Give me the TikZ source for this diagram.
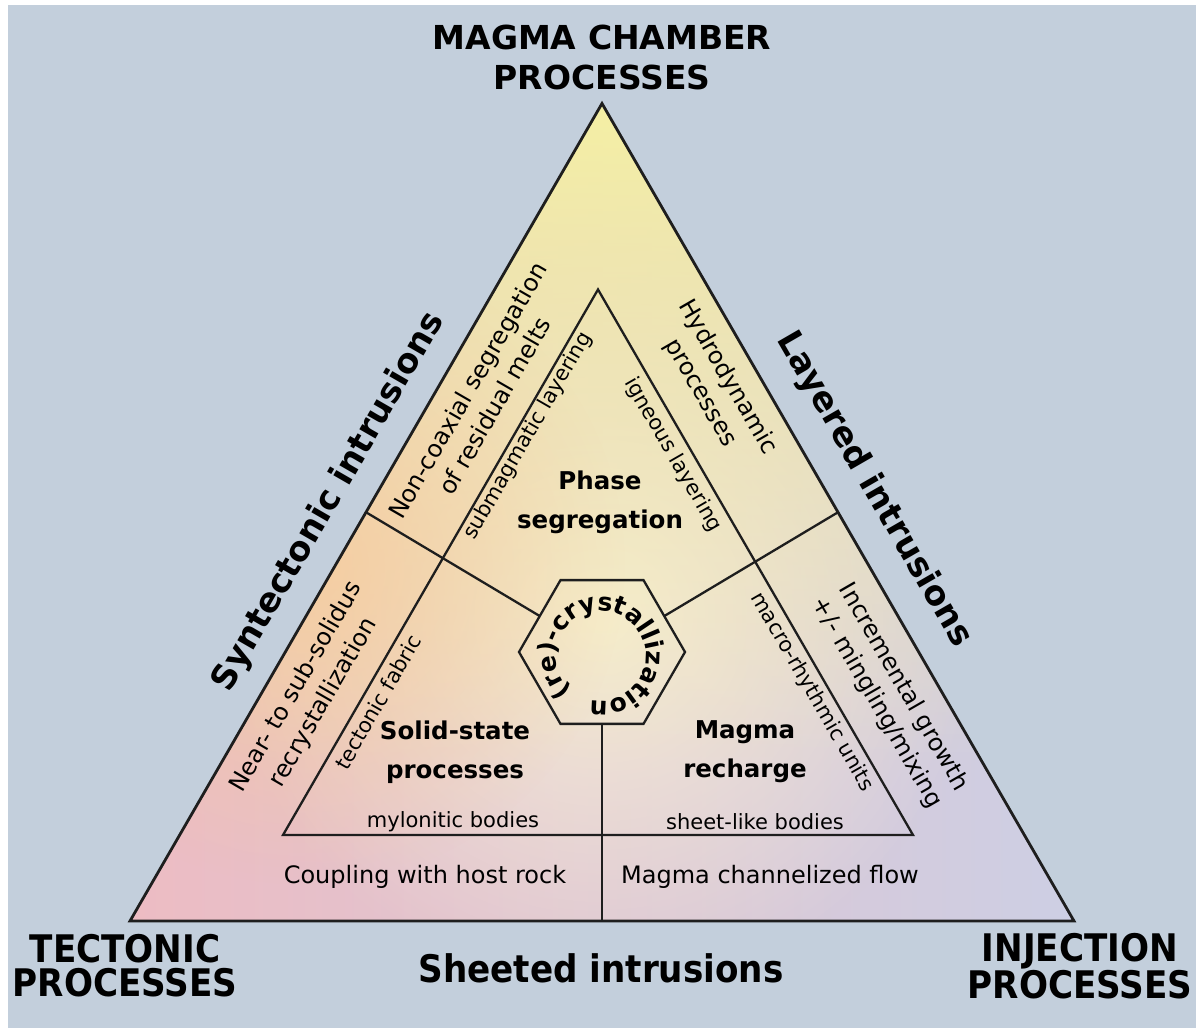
\documentclass[tikz,border=0pt]{standalone}
\usepackage{fontspec}
\setmainfont{DejaVu Sans}
\newfontfamily\condb{DejaVu Sans}[FakeStretch=0.9]
\usetikzlibrary{calc,fadings,decorations.text}
\definecolor{bgc}{HTML}{C3CFDC}
\definecolor{pinkc}{HTML}{EDBCC3}
\definecolor{midc}{HTML}{E4C8D5}
\definecolor{lavc}{HTML}{CDCFE4}
\definecolor{yelc}{HTML}{F5F0A4}
\definecolor{creamc}{HTML}{F6EDD6}
\definecolor{peachc}{HTML}{F7CC9A}
\definecolor{linec}{HTML}{1E1E1E}
\tikzfading[name=vfade, top color=transparent!0, middle color=transparent!20, bottom color=transparent!100]
\tikzfading[name=rfade, inner color=transparent!0, outer color=transparent!100]
\newcommand{\hexfont}{\bfseries\fontsize{25}{28}\selectfont}
\begin{document}
\begin{tikzpicture}[x=1pt,y=1pt,
  lab/.style={font=\fontsize{24}{31}\selectfont, align=center, inner sep=0pt, text=black},
  sml/.style={font=\fontsize{21}{25}\selectfont, align=center, inner sep=0pt, text=black},
  bld/.style={font=\bfseries\fontsize{24.5}{39}\selectfont, align=center, inner sep=0pt, text=black},
  big/.style={font=\bfseries\fontsize{34}{40}\selectfont, inner sep=0pt, text=black},
  corner/.style={font=\condb\bfseries\fontsize{38}{34}\selectfont, align=center, inner sep=0pt, text=black},
  top/.style={font=\bfseries\fontsize{33}{40}\selectfont, align=center, inner sep=0pt, text=black},
  edge/.style={draw=linec, line width=2.8pt, line join=miter},
  iedge/.style={draw=linec, line width=2.3pt, line join=miter}]
% background
\fill[white] (0,0) rectangle (1196,-1028);
\fill[bgc] (8,-5) rectangle (1196,-1028);
\useasboundingbox (0,0) rectangle (1196,-1028);
% corners
\coordinate (A) at (602,-103.5);
\coordinate (B) at (130,-921);
\coordinate (C) at (1074,-921);
\coordinate (IA) at (598,-289.5);
\coordinate (IB) at (283,-835);
\coordinate (IC) at (913,-835);
\coordinate (hc) at (602,-652);
% fills
\begin{scope}
\clip (A) -- (B) -- (C) -- cycle;
\shade[left color=pinkc, middle color=midc, right color=lavc] (130,-921) rectangle (1074,-103);
\fill[creamc, path fading=rfade] (602,-615) circle (380);
\fill[yelc, path fading=vfade] (100,-100) rectangle (1100,-770);
\fill[peachc, path fading=rfade, opacity=0.8] (305,-565) circle (320);
\end{scope}
% triangles
\draw[edge] (A) -- (B) -- (C) -- cycle;
\draw[iedge] (IA) -- (IB) -- (IC) -- cycle;
% hexagon
\draw[iedge, shift={(hc)}] (0:83) -- (60:83) -- (120:83) -- (180:83) -- (240:83) -- (300:83) -- cycle;
\coordinate (hl) at ($(hc)+(150:71.9)$);
\coordinate (hr) at ($(hc)+(30:71.9)$);
\coordinate (hb) at ($(hc)+(270:71.9)$);
\coordinate (mAB) at ($(A)!0.5!(B)$);
\coordinate (mAC) at ($(A)!0.5!(C)$);
\coordinate (mBC) at ($(B)!0.5!(C)$);
\draw[iedge] (hl) -- (mAB);
\draw[iedge] (hr) -- (mAC);
\draw[iedge] (hb) -- (mBC);
% hexagon text
\path[decorate, decoration={text along path, text={|\hexfont|(re)-crystallization}, text align=center}]
  (601,-656) ++(227:45) arc[start angle=227, end angle=-101, radius=45];
% outer labels
\node[top] (tmc) at (602,-57) {MAGMA CHAMBER\\PROCESSES};
\node[corner] (ttp) at (125,-966) {TECTONIC\\PROCESSES};
\node[corner] (tip) at (1080,-966) {INJECTION\\PROCESSES};
\node[corner] (tsh) at (601,-968) {Sheeted intrusions};
\node[big, rotate=60] (tsy) at (329,-502) {Syntectonic intrusions};
\node[big, rotate=-60] (tly) at (874,-490) {Layered intrusions};
% strip labels
\node[lab, rotate=60] (tnc) at (481,-398) {Non-coaxial segregation\\of residual melts};
\node[lab, rotate=-60] (thy) at (714,-385) {Hydrodynamic\\processes};
\node[lab, rotate=60] (tne) at (310,-695) {Near- to sub-solidus\\recrystallization};
\node[lab, rotate=-60] (tin) at (890,-695) {Incremental growth\\+/- mingling/mixing};
\node[lab] (tco) at (425,-877) {Coupling with host rock};
\node[lab] (tmf) at (770,-877) {Magma channelized flow};
% inner labels
\node[sml, rotate=60] (tsu) at (528,-436) {submagmatic layering};
\node[sml, rotate=-60] (tig) at (673,-455) {igneous layering};
\node[sml, rotate=60] (tte) at (378,-702) {tectonic fabric};
\node[sml, rotate=-60] (tma) at (812,-692) {macro-rhythmic units};
\node[sml] (tmy) at (453,-822) {mylonitic bodies};
\node[sml] (tsl) at (755,-822) {sheet-like bodies};
% field labels
\node[bld] (tph) at (600,-502) {Phase\\segregation};
\node[bld] (tso) at (455,-752) {Solid-state\\processes};
\node[bld] (tmr) at (745,-752) {Magma\\recharge};
\end{tikzpicture}
\end{document}
